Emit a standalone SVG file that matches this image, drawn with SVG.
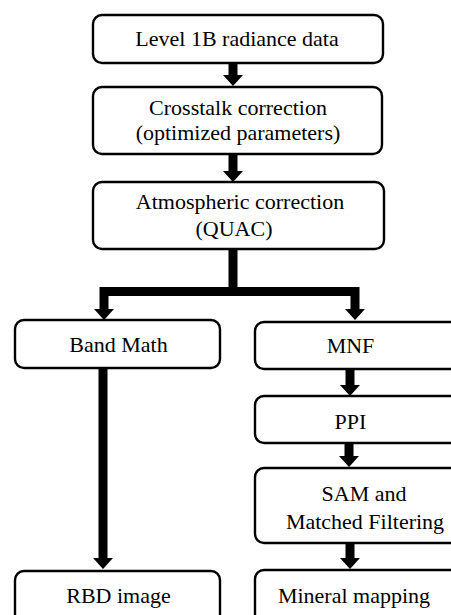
<svg xmlns="http://www.w3.org/2000/svg" width="451" height="615" viewBox="0 0 451 615">
<style>
.box{fill:#fff;stroke:#000;stroke-width:2.4}
.t{font-size:22px;fill:#000;text-anchor:middle}
.c{fill:none;stroke:#000;stroke-width:9;stroke-linejoin:miter}
</style>
<defs>
<marker id="ah" markerUnits="userSpaceOnUse" viewBox="0 0 11 20" refX="0" refY="10" markerWidth="11" markerHeight="20" orient="auto">
<path d="M0,0 L11,10 L0,20 z" fill="#000"/>
</marker>
</defs>
<rect width="451" height="615" fill="#fff"/>
<g id="connectors">
<path class="c" d="M233,63 V75" marker-end="url(#ah)"/>
<path class="c" d="M233,154 V171" marker-end="url(#ah)"/>
<path class="c" d="M233,249 V291.5 H104 V309" marker-end="url(#ah)"/>
<path class="c" d="M233,291.5 H355 V309" marker-end="url(#ah)"/>
<path class="c" d="M103,368 V558" marker-end="url(#ah)"/>
<path class="c" d="M350,369 V385" marker-end="url(#ah)"/>
<path class="c" d="M349,443 V456" marker-end="url(#ah)"/>
<path class="c" d="M350,543 V558" marker-end="url(#ah)"/>
</g>
<g font-family="Liberation Serif, Times New Roman, DejaVu Serif, serif">
<g id="n1"><rect class="box" x="93" y="15" width="290" height="48" rx="9"/><text class="t" x="237" y="46">Level 1B radiance data</text></g>
<g id="n2"><rect class="box" x="93" y="87" width="289" height="67" rx="9"/><text class="t" x="238" y="115">Crosstalk correction</text><text class="t" x="238" y="140">(optimized parameters)</text></g>
<g id="n3"><rect class="box" x="93" y="182" width="291" height="67" rx="9"/><text class="t" x="240" y="209">Atmospheric correction</text><text class="t" x="234" y="236">(QUAC)</text></g>
<g id="n4"><rect class="box" x="15" y="320" width="205" height="48" rx="9"/><text class="t" x="118.5" y="352">Band Math</text></g>
<g id="n5"><rect class="box" x="255" y="322" width="220" height="47" rx="9"/><text class="t" x="350.5" y="353">MNF</text></g>
<g id="n6"><rect class="box" x="255" y="396" width="220" height="47" rx="9"/><text class="t" x="350.5" y="429">PPI</text></g>
<g id="n7"><rect class="box" x="255" y="468" width="220" height="75" rx="9"/><text class="t" x="364" y="501">SAM and</text><text class="t" x="365" y="529">Matched Filtering</text></g>
<g id="n8"><rect class="box" x="15" y="571" width="205" height="60" rx="9"/><text class="t" x="118.5" y="603">RBD image</text></g>
<g id="n9"><rect class="box" x="255" y="570" width="220" height="60" rx="9"/><text class="t" x="354" y="603">Mineral mapping</text></g>
</g>
</svg>
